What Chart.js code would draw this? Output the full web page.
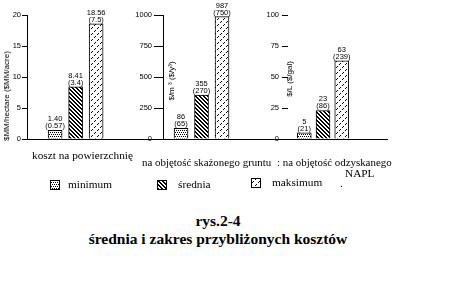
<!DOCTYPE html>
<html lang="pl">
<head>
<meta charset="UTF-8" />
<title>rys.2-4</title>
<style>
  body { margin: 0; background: #fff; width: 454px; height: 302px; position: relative; overflow: hidden; }
  canvas.panel { position: absolute; top: 0; }
  .t { position: absolute; white-space: nowrap; color: #000; font-family: "Liberation Serif", serif; font-size: 11.3px; line-height: 12px; }
  .t.small { font-size: 10.9px; }
  .rot { position: absolute; white-space: nowrap; font-family: "Liberation Sans", sans-serif; font-size: 8px; line-height: 8px; transform: translate(-50%, -50%) rotate(-90deg); }
  .sw { position: absolute; width: 10px; height: 10px; }
  .title { position: absolute; left: 0; width: 436px; text-align: center; font-family: "Liberation Serif", serif; font-weight: bold; font-size: 15.5px; line-height: 18px; }
</style>
</head>
<body>
  <canvas class="panel" id="c1" width="163" height="150" style="left:0px"></canvas>
  <canvas class="panel" id="c2" width="153" height="150" style="left:135px"></canvas>
  <canvas class="panel" id="c3" width="128" height="150" style="left:260px"></canvas>

  <div class="rot" style="left:7px; top:96px">$MM/hectare ($MM/acre)</div>
  <div class="rot" style="left:172px; top:81px">$/m ³ ($/y³)</div>
  <div class="rot" style="left:290px; top:79px">$/L ($/gal)</div>

  <div class="t" style="left:32px; top:149px">koszt na powierzchnię</div>
  <div class="t small" style="left:142px; top:156px">na objętość skażonego gruntu</div>
  <div class="t small" style="left:277px; top:156px">: na objętość odzyskanego</div>
  <div class="t" style="left:345px; top:167px">NAPL</div>

  <canvas class="sw" id="sw0" width="10" height="10" style="left:50px; top:180px"></canvas>
  <div class="t" style="left:68px; top:178px">minimum</div>
  <canvas class="sw" id="sw1" width="10" height="10" style="left:157px; top:180px"></canvas>
  <div class="t" style="left:178px; top:178px">średnia</div>
  <canvas class="sw" id="sw2" width="10" height="10" style="left:251px; top:178px"></canvas>
  <div class="t" style="left:272px; top:176px">maksimum</div>
  <div class="t" style="left:340px; top:177px">.</div>

  <div class="title" style="top:212px">rys.2-4<br>średnia i zakres przybliżonych kosztów</div>

  <script src="https://cdn.jsdelivr.net/npm/chart.js"></script>
  <script>
    // series: minimum, średnia, maksimum
    const seriesNames = ["minimum", "średnia", "maksimum"];

    // koszt na powierzchnię: $MM/hectare, ($MM/acre)
    const areaCost = [1.40, 8.41, 18.56];
    const areaLabels = ["1.40", "8.41", "18.56"];
    const areaCostAcre = ["0.57", "3.4", "7.5"];
    const areaTicks = [0, 5, 10, 15, 20];

    // na objętość skażonego gruntu: $/m3, ($/yd3)
    const soilCost = [86, 355, 987];
    const soilLabels = ["86", "355", "987"];
    const soilCostYd = ["65", "270", "750"];
    const soilTicks = [0, 250, 500, 750, 1000];

    // na objętość odzyskanego NAPL: $/L, ($/gal)
    const naplCost = [5, 23, 63];
    const naplLabels = ["5", "23", "63"];
    const naplCostGal = ["21", "86", "239"];
    const naplTicks = [0, 25, 50, 75, 100];

    Chart.defaults.font.family = "'Liberation Sans', Arial, sans-serif";
    Chart.defaults.color = "#000";

    function makePattern(kind) {
      const c = document.createElement("canvas");
      const s = kind === "max" ? 6 : 4;
      c.width = s; c.height = s;
      const g = c.getContext("2d");
      g.fillStyle = "#fff";
      g.fillRect(0, 0, s, s);
      g.fillStyle = "#000";
      if (kind === "min") {
        [[0, 0], [2, 0], [1, 2], [3, 2]].forEach(p => g.fillRect(p[0], p[1], 1, 1));
      } else if (kind === "mean") {
        for (let i = 0; i < 4; i++) {
          g.fillRect(i, i, 1, 1);
          g.fillRect((i + 1) % 4, i, 1, 1);
        }
      } else {
        [0, 1, 3, 4].forEach(i => g.fillRect(5 - i, i, 1, 1));
      }
      return g.createPattern(c, "repeat");
    }
    const patterns = [makePattern("min"), makePattern("mean"), makePattern("max")];

    // legend swatches
    patterns.forEach((p, i) => {
      const g = document.getElementById("sw" + i).getContext("2d");
      g.fillStyle = p;
      g.fillRect(0, 0, 10, 10);
      g.strokeStyle = "#000";
      g.strokeRect(0.5, 0.5, 9, 9);
    });

    const valueLabels = {
      id: "valueLabels",
      afterDatasetsDraw(chart, args, opts) {
        const ctx = chart.ctx;
        const meta = chart.getDatasetMeta(0);
        ctx.save();
        ctx.font = "7.5px 'Liberation Sans', Arial, sans-serif";
        ctx.fillStyle = "#000";
        ctx.textAlign = "center";
        meta.data.forEach((bar, i) => {
          ctx.fillText(opts.top[i], bar.x, bar.y - 9);
          ctx.fillText("(" + opts.bottom[i] + ")", bar.x, bar.y - 2);
        });
        ctx.restore();
      }
    };

    function panel(id, values, top, second, ticks, xMin, xMax, yOpts) {
      new Chart(document.getElementById(id), {
        type: "bar",
        data: {
          datasets: [{
            label: "koszt",
            data: values.map((v, i) => ({ x: i + 1, y: v })),
            backgroundColor: patterns,
            borderColor: "#000",
            borderWidth: 1,
            borderSkipped: "bottom",
            barThickness: 14
          }]
        },
        options: {
          responsive: false,
          animation: false,
          layout: { padding: { top: 15, bottom: 3, left: 0, right: 0 } },
          plugins: {
            legend: { display: false },
            tooltip: { enabled: false },
            valueLabels: { top: top, bottom: second }
          },
          scales: {
            x: {
              type: "linear",
              offset: false,
              min: xMin,
              max: xMax,
              grid: { display: false, offset: false },
              ticks: { display: false },
              border: { display: true, color: "#000", width: 1 }
            },
            y: {
              min: ticks[0],
              max: ticks[ticks.length - 1],
              afterBuildTicks: (s) => { s.ticks = ticks.map(v => ({ value: v })); },
              afterFit: (s) => { s.width = yOpts.width; },
              grid: { display: true, drawOnChartArea: false, drawTicks: true, tickLength: yOpts.tickLength, color: "#000" },
              border: { display: yOpts.line, color: "#000", width: 1 },
              ticks: { padding: yOpts.padding, font: { size: 7.5 }, color: "#000", callback: (v) => String(v) }
            }
          }
        },
        plugins: [valueLabels]
      });
    }

    panel("c1", areaCost, areaLabels, areaCostAcre, areaTicks, -0.37, 6.26, { width: 27, tickLength: 5, padding: 1, line: true });
    panel("c2", soilCost, soilLabels, soilCostYd, soilTicks, 0.12, 6.22, { width: 28, tickLength: 9, padding: 2, line: true });
    panel("c3", naplCost, naplLabels, naplCostGal, naplTicks, 0.13, 5.47, { width: 28, tickLength: 6, padding: 3, line: false });
  </script>
</body>
</html>
